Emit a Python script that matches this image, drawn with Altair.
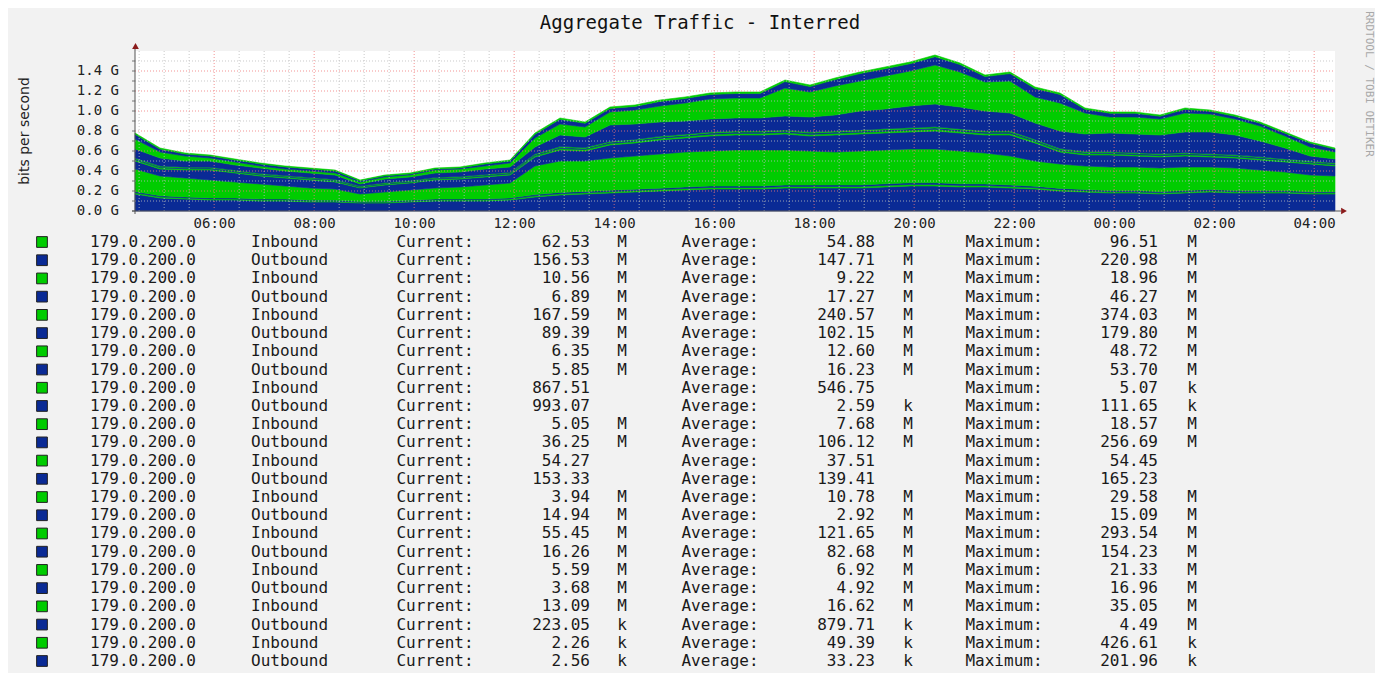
import altair as alt
import pandas as pd

# ---------------- time grid: 30-minute samples, 04:25 -> 04:25 next day
times = pd.date_range("2015-01-01 04:25", periods=49, freq="30min").strftime("%Y-%m-%dT%H:%M:%S").tolist()

# ---------------- stack edges (Gbit/s)
edge_total = [0.78, 0.63, 0.58, 0.56, 0.52, 0.48, 0.45, 0.43, 0.41, 0.31, 0.36, 0.38,
              0.43, 0.44, 0.48, 0.51, 0.78, 0.93, 0.89, 1.04, 1.06, 1.11, 1.14, 1.18,
              1.19, 1.19, 1.31, 1.26, 1.33, 1.39, 1.44, 1.49, 1.56, 1.48, 1.36, 1.39,
              1.24, 1.18, 1.03, 0.99, 0.99, 0.96, 1.03, 1.01, 0.96, 0.89, 0.79, 0.69,
              0.63]
edge_out_bottom = [0.17, 0.13, 0.12, 0.11, 0.11, 0.10, 0.10, 0.09, 0.09, 0.08, 0.08, 0.09,
                   0.10, 0.10, 0.10, 0.11, 0.14, 0.16, 0.17, 0.18, 0.19, 0.20, 0.21, 0.22,
                   0.22, 0.22, 0.23, 0.23, 0.23, 0.23, 0.24, 0.25, 0.25, 0.24, 0.24, 0.23,
                   0.22, 0.20, 0.19, 0.18, 0.18, 0.17, 0.18, 0.19, 0.18, 0.18, 0.18, 0.17,
                   0.17]
edge_in_big = [0.42, 0.35, 0.33, 0.31, 0.29, 0.27, 0.25, 0.23, 0.22, 0.17, 0.19, 0.21,
               0.23, 0.24, 0.26, 0.28, 0.45, 0.50, 0.50, 0.53, 0.55, 0.57, 0.59, 0.60,
               0.61, 0.61, 0.61, 0.60, 0.59, 0.60, 0.61, 0.62, 0.62, 0.60, 0.58, 0.55,
               0.50, 0.47, 0.45, 0.44, 0.44, 0.43, 0.44, 0.44, 0.43, 0.41, 0.39, 0.36,
               0.35]
edge_out_mid = [0.50, 0.42, 0.41, 0.41, 0.38, 0.35, 0.33, 0.31, 0.29, 0.23, 0.26, 0.28,
                0.31, 0.32, 0.34, 0.36, 0.54, 0.61, 0.60, 0.66, 0.68, 0.71, 0.73, 0.75,
                0.76, 0.76, 0.77, 0.75, 0.76, 0.77, 0.78, 0.79, 0.80, 0.78, 0.76, 0.76,
                0.68, 0.59, 0.56, 0.56, 0.55, 0.54, 0.55, 0.54, 0.53, 0.51, 0.49, 0.47,
                0.45]
edge_out_upper = [0.62, 0.53, 0.50, 0.50, 0.46, 0.43, 0.40, 0.38, 0.36, 0.27, 0.32, 0.34,
                  0.38, 0.39, 0.42, 0.44, 0.64, 0.76, 0.74, 0.86, 0.87, 0.89, 0.90, 0.92,
                  0.93, 0.93, 0.95, 0.94, 0.96, 1.00, 1.02, 1.05, 1.07, 1.04, 1.00, 0.98,
                  0.88, 0.80, 0.77, 0.78, 0.77, 0.76, 0.79, 0.79, 0.76, 0.70, 0.63, 0.55,
                  0.52]
edge_in_upper = [0.72, 0.59, 0.55, 0.53, 0.49, 0.45, 0.42, 0.40, 0.38, 0.29, 0.34, 0.36,
                 0.41, 0.42, 0.45, 0.48, 0.73, 0.87, 0.84, 0.99, 1.01, 1.05, 1.08, 1.12,
                 1.13, 1.13, 1.23, 1.19, 1.25, 1.30, 1.35, 1.40, 1.46, 1.39, 1.29, 1.30,
                 1.14, 1.08, 0.98, 0.94, 0.94, 0.92, 0.98, 0.97, 0.92, 0.85, 0.75, 0.64,
                 0.59]

# ---------------- thin series (Mbit/s)
in_3 = [13, 12, 11, 11, 10, 10, 10, 9, 9, 8, 9, 9,
        10, 10, 10, 11, 12, 13, 13, 14, 14, 14, 15, 15,
        15, 15, 15, 15, 15, 15, 16, 16, 16, 16, 15, 15,
        14, 13, 13, 12, 12, 12, 12, 13, 12, 12, 12, 12,
        12]
out_4 = [12, 11, 10, 10, 10, 9, 9, 9, 8, 8, 8, 9,
         9, 9, 10, 10, 12, 13, 13, 14, 14, 14, 15, 15,
         15, 15, 15, 15, 16, 16, 16, 16, 17, 16, 16, 15,
         14, 13, 12, 12, 12, 12, 12, 12, 12, 12, 12, 11,
         11]
in_7 = [13, 12, 12, 11, 11, 10, 10, 10, 10, 8, 9, 9,
        10, 10, 11, 11, 13, 14, 14, 15, 15, 15, 16, 16,
        16, 16, 16, 16, 16, 17, 17, 17, 17, 17, 16, 16,
        15, 14, 14, 13, 13, 13, 13, 13, 13, 13, 12, 12,
        12]
out_8 = [10, 9, 9, 9, 9, 8, 8, 8, 8, 7, 7, 8,
         8, 8, 8, 9, 10, 11, 11, 12, 12, 12, 12, 13,
         13, 13, 13, 13, 13, 13, 14, 14, 14, 14, 13, 13,
         12, 11, 11, 11, 11, 11, 11, 11, 11, 11, 10, 10,
         10]
in_11 = [8, 8, 7, 7, 7, 7, 6, 6, 6, 5, 6, 6,
         6, 7, 7, 7, 8, 9, 9, 9, 9, 10, 10, 10,
         10, 10, 10, 10, 10, 10, 11, 11, 11, 10, 10, 10,
         9, 9, 9, 8, 8, 8, 8, 8, 8, 8, 8, 8,
         8]
in_21 = [12, 11, 10, 10, 10, 9, 9, 9, 9, 8, 8, 9,
         9, 9, 10, 10, 12, 13, 13, 14, 14, 14, 15, 15,
         15, 15, 16, 16, 16, 16, 17, 17, 17, 16, 16, 16,
         15, 14, 13, 13, 13, 13, 13, 13, 13, 12, 12, 11,
         11]

# ---------------- legend table
legend_name = ["179.0.200.0"] * 24
legend_dir = ["Inbound", "Outbound"] * 12
legend_cur = ["62.53 M", "156.53 M", "10.56 M", "6.89 M", "167.59 M", "89.39 M", "6.35 M", "5.85 M",
              "867.51", "993.07", "5.05 M", "36.25 M", "54.27", "153.33", "3.94 M", "14.94 M",
              "55.45 M", "16.26 M", "5.59 M", "3.68 M", "13.09 M", "223.05 k", "2.26 k", "2.56 k"]
legend_avg = ["54.88 M", "147.71 M", "9.22 M", "17.27 M", "240.57 M", "102.15 M", "12.60 M", "16.23 M",
              "546.75", "2.59 k", "7.68 M", "106.12 M", "37.51", "139.41", "10.78 M", "2.92 M",
              "121.65 M", "82.68 M", "6.92 M", "4.92 M", "16.62 M", "879.71 k", "49.39 k", "33.23 k"]
legend_max = ["96.51 M", "220.98 M", "18.96 M", "46.27 M", "374.03 M", "179.80 M", "48.72 M", "53.70 M",
              "5.07 k", "111.65 k", "18.57 M", "256.69 M", "54.45", "165.23", "29.58 M", "15.09 M",
              "293.54 M", "154.23 M", "21.33 M", "16.96 M", "35.05 M", "4.49 M", "426.61 k", "201.96 k"]

y_ticks = [0.0, 0.2, 0.4, 0.6, 0.8, 1.0, 1.2, 1.4]
y_tick_labels = ["0.0 G", "0.2 G", "0.4 G", "0.6 G", "0.8 G", "1.0 G", "1.2 G", "1.4 G"]
y_minor = [0.1, 0.3, 0.5, 0.7, 0.9, 1.1, 1.3, 1.5]
y_title = "bits per second"
chart_title = "Aggregate Traffic - Interred"

GREEN = "#00CC00"
BLUE = "#0A2A95"
MONO = "DejaVu Sans Mono"

# ---------------- build stacked series (bottom -> top)
n = len(times)
series = []
for i in range(n):
    b1, b3, b4, b6, b7, T = (edge_out_bottom[i], edge_in_big[i], edge_out_mid[i],
                            edge_out_upper[i], edge_in_upper[i], edge_total[i])
    s3, s4, s7, s8, s11, s21 = (in_3[i] / 1000, out_4[i] / 1000, in_7[i] / 1000,
                                out_8[i] / 1000, in_11[i] / 1000, in_21[i] / 1000)
    vals = [
        ("S02", "Outbound", b1),
        ("S03", "Inbound", s3),
        ("S04", "Outbound", s4),
        ("S05", "Inbound", b3 - b1 - s3 - s4),
        ("S06", "Outbound", b4 - b3),
        ("S07", "Inbound", s7),
        ("S08", "Outbound", s8),
        ("S11", "Inbound", s11),
        ("S12", "Outbound", b6 - b4 - s7 - s8 - s11),
        ("S17", "Inbound", b7 - b6),
        ("S18", "Outbound", T - b7 - s21),
        ("S21", "Inbound", s21),
    ]
    for k, (sid, d, v) in enumerate(vals):
        series.append({"t": times[i], "sid": sid, "dir": d, "k": k, "gbps": max(v, 0.0)})
df = pd.DataFrame(series)

cscale = alt.Scale(domain=["Inbound", "Outbound"], range=[GREEN, BLUE])
xdomain = [alt.DateTime(year=2015, month=1, date=1, hours=4, minutes=25),
           alt.DateTime(year=2015, month=1, date=2, hours=4, minutes=25)]
major_hours = [(1, 6), (1, 8), (1, 10), (1, 12), (1, 14), (1, 16), (1, 18), (1, 20), (1, 22),
               (2, 0), (2, 2), (2, 4)]
xticks = [alt.DateTime(year=2015, month=1, date=d, hours=h) for d, h in major_hours]

xs = alt.Scale(domain=xdomain)
ys = alt.Scale(domain=[0, 1.6], nice=False, zero=True)
xaxis = alt.Axis(values=xticks, format="%H:%M", labelFont=MONO, labelFontSize=14,
                 labelColor="#222", ticks=False, domain=False, grid=False, labelPadding=5,
                 title=None, labelFlush=False, labelOverlap=False)

area = alt.Chart(df).mark_area(interpolate="linear", strokeWidth=0.6).encode(
    x=alt.X("t:T", scale=xs, axis=xaxis),
    y=alt.Y("gbps:Q", stack="zero", scale=ys, axis=None),
    color=alt.Color("dir:N", scale=cscale, legend=None),
    stroke=alt.Stroke("dir:N", scale=cscale, legend=None),
    detail="sid:N",
    order=alt.Order("k:Q"),
)

# y tick labels, tick marks and title
df_yt = pd.DataFrame({"gbps": y_ticks, "lab": y_tick_labels})
ylabels = alt.Chart(df_yt).mark_text(
    align="right", baseline="middle", font=MONO, fontSize=14, color="#222").encode(
    y=alt.Y("gbps:Q", scale=ys, axis=None), x=alt.value(-16), text="lab:N")
yticks_m = alt.Chart(pd.DataFrame({"gbps": y_ticks + y_minor})).mark_rule(
    color="#777", strokeWidth=1).encode(
    y=alt.Y("gbps:Q", scale=ys, axis=None), x=alt.value(-3), x2=alt.value(0))

one = pd.DataFrame({"a": [0]})
ytitle = alt.Chart(one).mark_text(font="DejaVu Sans", fontSize=14, color="#222", angle=270,
                                  align="center", baseline="middle").encode(
    x=alt.value(-110), y=alt.value(80), text=alt.value(y_title))

# ---------------- grid
all_half = pd.date_range("2015-01-01 04:30", "2015-01-02 04:00", freq="30min")
minor_t = [t.strftime("%Y-%m-%dT%H:%M:%S") for t in all_half if not (t.minute == 0 and t.hour % 2 == 0)]
major_t = [t.strftime("%Y-%m-%dT%H:%M:%S") for t in all_half if (t.minute == 0 and t.hour % 2 == 0)]

vminor = alt.Chart(pd.DataFrame({"t": minor_t})).mark_rule(
    color="#bdbdbd", strokeDash=[1, 2], strokeWidth=1, opacity=0.8).encode(
    x=alt.X("t:T", scale=xs, axis=xaxis), y=alt.value(0), y2=alt.value(160))
vmajor = alt.Chart(pd.DataFrame({"t": major_t})).mark_rule(
    color="#f07878", strokeDash=[1, 2], strokeWidth=1, opacity=0.8).encode(
    x=alt.X("t:T", scale=xs, axis=xaxis), y=alt.value(0), y2=alt.value(160))
hminor = alt.Chart(pd.DataFrame({"gbps": y_minor})).mark_rule(
    color="#bdbdbd", strokeDash=[1, 2], strokeWidth=1, opacity=0.8).encode(
    y=alt.Y("gbps:Q", scale=ys, axis=None), x=alt.value(0), x2=alt.value(1200))
hmajor = alt.Chart(pd.DataFrame({"gbps": y_ticks[1:]})).mark_rule(
    color="#f07878", strokeDash=[1, 2], strokeWidth=1, opacity=0.8).encode(
    y=alt.Y("gbps:Q", scale=ys, axis=None), x=alt.value(0), x2=alt.value(1200))

yaxis_line = alt.Chart(one).mark_rule(color="#555", strokeWidth=1).encode(
    x=alt.value(0), y=alt.value(163), y2=alt.value(-3))
xaxis_line = alt.Chart(one).mark_rule(color="#555", strokeWidth=1).encode(
    x=alt.value(-3), x2=alt.value(1206), y=alt.value(160))
arrow_up = alt.Chart(one).mark_point(shape="triangle-up", filled=True, size=45, color="#8B1C1C",
                                     opacity=1).encode(x=alt.value(0.5), y=alt.value(-5))
arrow_right = alt.Chart(one).mark_point(shape="triangle-right", filled=True, size=45, color="#8B1C1C",
                                        opacity=1).encode(x=alt.value(1209), y=alt.value(160))

plot = alt.layer(area, vminor, vmajor, hminor, hmajor, ylabels, yticks_m, ytitle,
                 xaxis_line, yaxis_line, arrow_up, arrow_right)

# ---------------- legend block
rows = []
for i in range(24):
    c, a, m = legend_cur[i].split(" "), legend_avg[i].split(" "), legend_max[i].split(" ")
    rows.append({"row": i, "dir": legend_dir[i], "name": legend_name[i],
                 "cn": c[0], "cu": c[1] if len(c) > 1 else "",
                 "an": a[0], "au": a[1] if len(a) > 1 else "",
                 "mn": m[0], "mu": m[1] if len(m) > 1 else "",
                 "lc": "Current:", "la": "Average:", "lm": "Maximum:"})
dfl = pd.DataFrame(rows)

lbase = alt.Chart(dfl).encode(
    y=alt.Y("row:Q", scale=alt.Scale(domain=[0, 23], range=[191, 610]), axis=None))


def ltext(field, xpos, align):
    return lbase.mark_text(align=align, baseline="middle", font=MONO, fontSize=16,
                           color="#1a1a1a").encode(x=alt.value(xpos), text=f"{field}:N")


squares = lbase.mark_square(size=115, stroke="#222", strokeWidth=1, opacity=1).encode(
    x=alt.value(-93), color=alt.Color("dir:N", scale=cscale, legend=None))

legend_layers = [
    squares,
    ltext("name", 8, "center"),
    ltext("dir", 116, "left"),
    ltext("lc", 300, "center"),
    ltext("cn", 455, "right"),
    ltext("cu", 487, "center"),
    ltext("la", 585, "center"),
    ltext("an", 740, "right"),
    ltext("au", 773, "center"),
    ltext("lm", 869, "center"),
    ltext("mn", 1023, "right"),
    ltext("mu", 1057, "center"),
]

title_txt = alt.Chart(one).mark_text(font=MONO, fontSize=19, color="#111", align="center",
                                     baseline="middle").encode(
    x=alt.value(565), y=alt.value(-28), text=alt.value(chart_title))
rrd_txt = alt.Chart(one).mark_text(font=MONO, fontSize=11, color="#a8a8a8", align="center",
                                   baseline="middle", angle=90).encode(
    x=alt.value(1234), y=alt.value(33), text=alt.value("RRDTOOL / TOBI OETIKER"))

chart = alt.layer(plot, *legend_layers, title_txt, rrd_txt).resolve_scale(
    y="independent"
).properties(
    width=1200, height=160,
    padding={"left": 127, "top": 43, "right": 40, "bottom": 462},
    autosize=alt.AutoSizeParams(type="none"),
    background="#f2f2f2",
).configure_view(strokeWidth=0, fill="white")

chart.save("out.html", embed_options={"renderer": "svg", "actions": False})
